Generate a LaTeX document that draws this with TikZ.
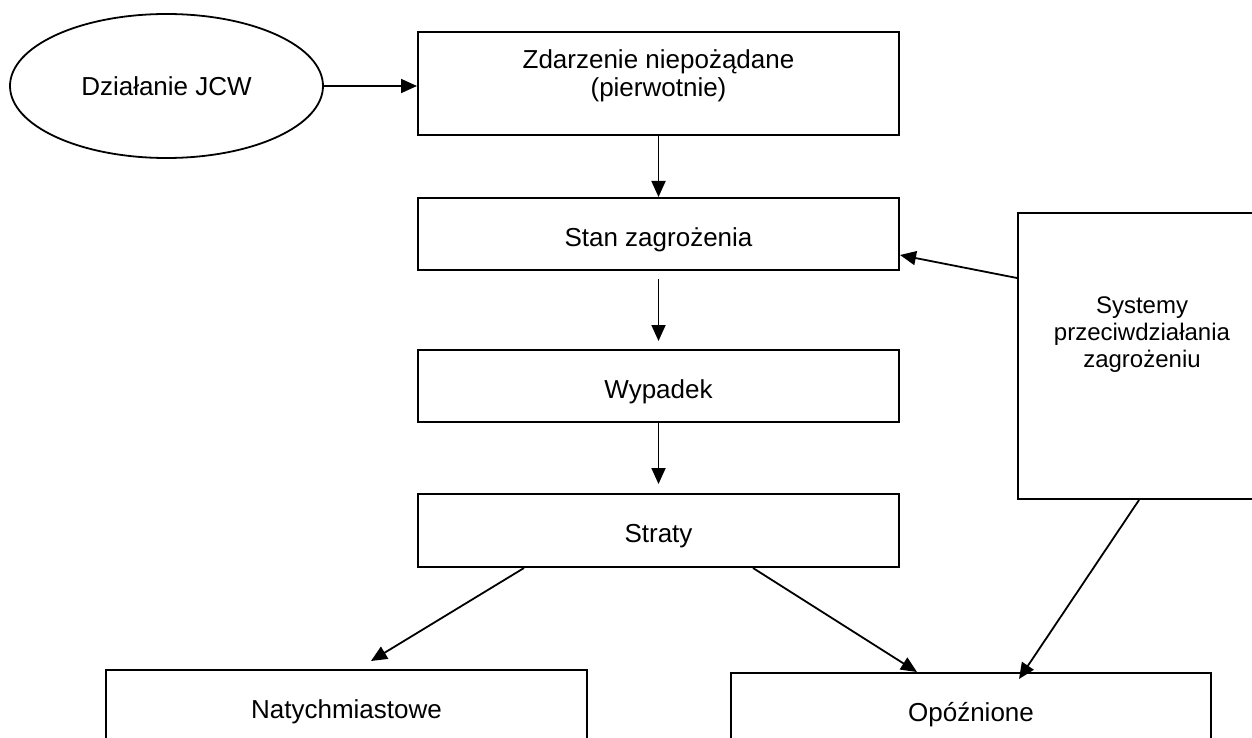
\documentclass[tikz,border=0pt]{standalone}
\usepackage{fontspec}
\setmainfont{Liberation Sans}
\usetikzlibrary{shapes.geometric,arrows.meta,calc}
\begin{document}
\begin{tikzpicture}[x=1pt,y=-1pt,
  box/.style={draw,line width=2pt,rectangle,inner sep=0pt,minimum width=481pt},
  oval/.style={draw,line width=1.8pt,ellipse,inner sep=0pt},
  lbl/.style={align=center,inner sep=0pt,font=\fontsize{26}{28}\selectfont},
  low/.style={text height=24pt,text depth=0pt},
  conn/.style={line width=1.8pt,-{Triangle[length=16pt,width=14pt]}}]
\useasboundingbox (0,0) rectangle (1252,738);
\node[oval,minimum width=313pt,minimum height=144pt,lbl] (ell) at (166.5,86) {Działanie JCW};
\node[box,minimum height=103pt] (zd) at (658.5,83.5) {};
\node[lbl] (zdt) at (658.5,76) {Zdarzenie niepożądane\\(pierwotnie)};
\node[box,minimum height=72pt,lbl,low] (stan) at (658.5,234) {Stan zagrożenia};
\node[box,minimum height=72pt,lbl,low] (wyp) at (658.5,386) {Wypadek};
\node[box,minimum height=73pt,lbl,low] (str) at (658.5,530.5) {Straty};
\node[box,minimum width=248pt,minimum height=286pt] (sys) at (1142,356) {};
\node[lbl,font=\fontsize{24}{27}\selectfont] (syst) at (1142,335) {Systemy\\przeciwdziałania\\zagrożeniu};
\node[box,minimum height=72pt,lbl,low] (nat) at (346.5,706) {Natychmiastowe};
\node[box,minimum width=480pt,minimum height=72pt,lbl,low] (opo) at (971,709) {Opóźnione};
\draw[conn] (ell.east) -- (ell.east -| zd.west);
\draw[conn] (zd.south) -- (stan.north);
\draw[conn,shorten <=8pt,shorten >=8pt] (stan.south) -- (wyp.north);
\draw[conn,shorten >=9pt] (wyp.south) -- (str.north);
\draw[conn] ($(sys.west)+(0,-78)$) -- ($(stan.east)+(0,21)$);
\draw[conn] ($(str.south west)+(107,0)$) -- ($(nat.north west)+(266,-8)$);
\draw[conn] ($(str.south west)+(336,0)$) -- ($(opo.north west)+(187,0)$);
\draw[conn] ($(sys.south)+(-3,0)$) -- ($(opo.north west)+(289,7)$);
\end{tikzpicture}
\end{document}
